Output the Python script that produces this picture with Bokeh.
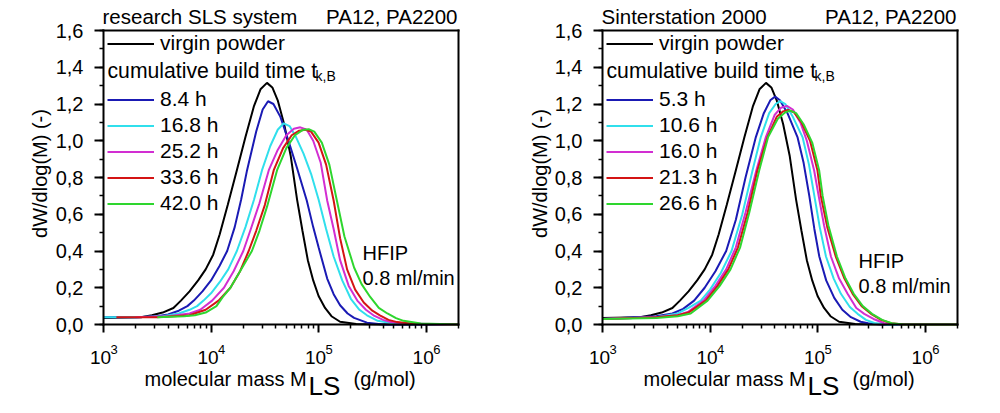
import math
import numpy as np
from bokeh.plotting import figure
from bokeh.layouts import row
from bokeh.models import (Range1d, FixedTicker, CustomJSTickFormatter, Label, Legend,
                          LegendItem, SingleIntervalTicker, LogAxis, LinearAxis)
from bokeh.embed import file_html
from bokeh.resources import INLINE

FONT = "Liberation Sans"

# ---------------- data (log10 of molar mass, dW/dlog(M)) ----------------
virgin_logm = [3.00, 3.35, 3.45, 3.55, 3.65, 3.72, 3.80, 3.88, 3.95, 4.02, 4.08, 4.155, 4.24, 4.32, 4.40,
               4.46, 4.52, 4.57, 4.62, 4.68, 4.74, 4.80, 4.85, 4.90, 4.95, 5.00, 5.06, 5.12, 5.20, 5.35,
               5.60, 6.30]
virgin_w = [0.035, 0.04, 0.05, 0.065, 0.09, 0.13, 0.18, 0.24, 0.30, 0.38, 0.49, 0.65, 0.84, 1.02, 1.19,
            1.28, 1.315, 1.29, 1.22, 1.09, 0.92, 0.68, 0.51, 0.35, 0.24, 0.155, 0.09, 0.045, 0.015, 0.003,
            0.0, 0.0]

# research SLS system
left_labels = ["8.4 h", "16.8 h", "25.2 h", "33.6 h", "42.0 h"]
left_logm = [
    [3.00, 3.30, 3.50, 3.60, 3.70, 3.78, 3.84, 3.92, 4.00, 4.08, 4.15, 4.22, 4.28, 4.335, 4.42, 4.48, 4.53,
     4.58, 4.645, 4.72, 4.80, 4.89, 4.95, 5.00, 5.08, 5.14, 5.20, 5.27, 5.33, 5.45, 5.60, 6.30],
    [3.00, 3.30, 3.55, 3.70, 3.80, 3.87, 3.93, 4.00, 4.08, 4.16, 4.24, 4.32, 4.40, 4.474, 4.55, 4.62, 4.676,
     4.73, 4.79, 4.86, 4.93, 5.00, 5.07, 5.14, 5.22, 5.30, 5.38, 5.45, 5.55, 5.70, 6.30],
    [3.30, 3.60, 3.80, 3.90, 4.01, 4.12, 4.21, 4.30, 4.37, 4.45, 4.537, 4.62, 4.70, 4.77, 4.83, 4.89, 4.95,
     5.02, 5.08, 5.14, 5.20, 5.28, 5.36, 5.44, 5.51, 5.60, 5.67, 5.80, 6.30],
    [3.12, 3.50, 3.80, 3.95, 4.07, 4.18, 4.27, 4.35, 4.42, 4.50, 4.583, 4.67, 4.75, 4.82, 4.877, 4.93, 5.00,
     5.07, 5.14, 5.20, 5.265, 5.34, 5.42, 5.50, 5.57, 5.65, 5.73, 5.90, 6.30],
    [3.50, 3.75, 3.85, 3.95, 4.05, 4.11, 4.18, 4.27, 4.38, 4.45, 4.52, 4.614, 4.70, 4.78, 4.85, 4.908, 4.96,
     5.03, 5.10, 5.17, 5.24, 5.33, 5.40, 5.48, 5.56, 5.64, 5.72, 5.79, 5.95, 6.30],
]
left_w = [
    [0.04, 0.04, 0.045, 0.055, 0.075, 0.10, 0.13, 0.18, 0.24, 0.32, 0.40, 0.53, 0.68, 0.84, 1.05, 1.17, 1.215,
     1.20, 1.13, 1.00, 0.85, 0.675, 0.53, 0.42, 0.25, 0.165, 0.105, 0.06, 0.036, 0.01, 0.0, 0.0],
    [0.04, 0.04, 0.045, 0.06, 0.08, 0.10, 0.13, 0.17, 0.23, 0.30, 0.40, 0.53, 0.68, 0.84, 0.97, 1.06, 1.095,
     1.08, 1.02, 0.93, 0.82, 0.68, 0.52, 0.37, 0.24, 0.14, 0.08, 0.05, 0.02, 0.005, 0.0],
    [0.04, 0.045, 0.06, 0.08, 0.13, 0.20, 0.29, 0.40, 0.52, 0.66, 0.84, 0.95, 1.03, 1.065, 1.073, 1.06, 1.00,
     0.88, 0.675, 0.52, 0.35, 0.21, 0.13, 0.08, 0.05, 0.025, 0.013, 0.005, 0.0],
    [0.04, 0.04, 0.05, 0.08, 0.13, 0.20, 0.29, 0.40, 0.51, 0.65, 0.84, 0.96, 1.03, 1.055, 1.06, 1.05, 0.99,
     0.87, 0.675, 0.47, 0.30, 0.19, 0.12, 0.075, 0.05, 0.025, 0.013, 0.003, 0.0],
    [0.04, 0.045, 0.05, 0.065, 0.10, 0.15, 0.20, 0.29, 0.40, 0.51, 0.64, 0.84, 0.96, 1.03, 1.058, 1.063, 1.05,
     0.99, 0.87, 0.675, 0.48, 0.31, 0.22, 0.15, 0.09, 0.06, 0.035, 0.02, 0.005, 0.0],
]

# Sinterstation 2000
right_labels = ["5.3 h", "10.6 h", "16.0 h", "21.3 h", "26.6 h"]
right_logm = [
    [3.00, 3.30, 3.50, 3.65, 3.75, 3.852, 3.95, 4.05, 4.15, 4.24, 4.33, 4.426, 4.50, 4.56, 4.605, 4.65, 4.72,
     4.813, 4.87, 4.923, 4.97, 5.016, 5.08, 5.155, 5.23, 5.31, 5.40, 5.47, 5.60, 6.30],
    [3.00, 3.50, 3.70, 3.80, 3.914, 4.00, 4.10, 4.20, 4.30, 4.395, 4.472, 4.55, 4.61, 4.652, 4.70, 4.77, 4.86,
     4.92, 4.97, 5.02, 5.078, 5.15, 5.217, 5.30, 5.372, 5.45, 5.527, 5.65, 6.30],
    [3.00, 3.50, 3.70, 3.80, 3.94, 4.05, 4.15, 4.24, 4.33, 4.43, 4.519, 4.60, 4.66, 4.714, 4.77, 4.84, 4.90,
     4.968, 5.01, 5.06, 5.124, 5.20, 5.279, 5.36, 5.434, 5.52, 5.62, 5.80, 6.30],
    [3.00, 3.50, 3.70, 3.80, 3.96, 4.07, 4.17, 4.26, 4.35, 4.44, 4.534, 4.62, 4.68, 4.726, 4.78, 4.85, 4.93,
     4.999, 5.03, 5.09, 5.171, 5.25, 5.326, 5.41, 5.496, 5.59, 5.682, 5.80, 6.30],
    [3.00, 3.50, 3.70, 3.82, 3.977, 4.09, 4.19, 4.28, 4.365, 4.457, 4.54, 4.63, 4.70, 4.745, 4.80, 4.87, 4.95,
     5.015, 5.047, 5.10, 5.18, 5.26, 5.336, 5.42, 5.506, 5.60, 5.69, 5.80, 6.30],
]
right_w = [
    [0.03, 0.04, 0.045, 0.06, 0.085, 0.13, 0.20, 0.29, 0.40, 0.57, 0.80, 1.02, 1.15, 1.22, 1.24, 1.22, 1.15,
     1.02, 0.88, 0.70, 0.52, 0.37, 0.24, 0.145, 0.08, 0.04, 0.015, 0.007, 0.0, 0.0],
    [0.03, 0.04, 0.06, 0.09, 0.13, 0.19, 0.28, 0.40, 0.60, 0.838, 1.02, 1.15, 1.20, 1.216, 1.20, 1.13, 1.02,
     0.87, 0.70, 0.53, 0.37, 0.25, 0.167, 0.095, 0.058, 0.025, 0.008, 0.0, 0.0],
    [0.03, 0.04, 0.05, 0.07, 0.13, 0.21, 0.30, 0.42, 0.61, 0.838, 1.02, 1.14, 1.18, 1.19, 1.17, 1.10, 1.00,
     0.838, 0.70, 0.54, 0.37, 0.25, 0.167, 0.09, 0.058, 0.03, 0.007, 0.0, 0.0],
    [0.03, 0.04, 0.05, 0.065, 0.13, 0.21, 0.30, 0.42, 0.61, 0.838, 1.02, 1.13, 1.16, 1.168, 1.155, 1.10, 1.00,
     0.838, 0.70, 0.53, 0.366, 0.25, 0.167, 0.10, 0.058, 0.025, 0.007, 0.0, 0.0],
    [0.03, 0.035, 0.045, 0.06, 0.13, 0.21, 0.30, 0.42, 0.61, 0.838, 1.02, 1.12, 1.155, 1.164, 1.15, 1.09, 0.99,
     0.838, 0.70, 0.54, 0.37, 0.25, 0.167, 0.10, 0.058, 0.025, 0.007, 0.0, 0.0],
]

series_colors = ["#1a1ab4", "#30dfec", "#d22ed2", "#d41414", "#2ed62e"]
X_MIN, X_MAX = 1e3, 2e6
Y_MIN, Y_MAX = 0.0, 1.6
x_major = [1e3, 1e4, 1e5, 1e6]
x_exponents = ["3", "4", "5", "6"]
x_minor = [m * 10 ** e for e in range(3, 7) for m in range(2, 10) if m * 10 ** e <= X_MAX]

W, H = 500, 413          # canvas of each panel
TOP, BOTTOM = 30, 324    # pixel rows of the data box
BASE_FIX = 6             # baseline correction of Label text (px)


def txt(p, x, y, text, size="20px", align="left", angle=0.0, baseline="alphabetic"):
    if baseline == "alphabetic":
        y = y - BASE_FIX
    p.add_layout(Label(x=x, y=H - y, x_units="screen", y_units="screen", text=text,
                       text_font=FONT, text_font_size=size, text_align=align, angle=angle,
                       text_baseline=baseline, text_color="black"))


def style_axis(ax, major_out=8, minor_out=4):
    ax.axis_line_width = 2
    ax.axis_line_color = "black"
    ax.axis_line_cap = "square"
    ax.major_tick_line_width = 2
    ax.minor_tick_line_width = 1.5
    ax.major_tick_in = 0
    ax.major_tick_out = major_out
    ax.minor_tick_in = 0
    ax.minor_tick_out = minor_out


def panel(title, labels, logms, ws, left, right, hfip_x, hfip_y):
    dec_px = (right - left) / math.log10(X_MAX / X_MIN)
    unit_px = (BOTTOM - TOP) / (Y_MAX - Y_MIN)
    x0 = 10 ** (math.log10(X_MIN) - left / dec_px)
    x1 = 10 ** (math.log10(X_MIN) + (W - left) / dec_px)
    y0 = Y_MIN - (H - BOTTOM) / unit_px
    y1 = Y_MAX + TOP / unit_px

    p = figure(width=W, height=H, x_axis_type="log", title=None,
               x_range=Range1d(x0, x1), y_range=Range1d(y0, y1),
               output_backend="svg", toolbar_location=None, min_border=0)
    p.grid.visible = False
    p.outline_line_color = None
    p.background_fill_color = "white"
    p.border_fill_color = "white"

    # left axis
    ya = p.yaxis[0]
    ya.fixed_location = X_MIN
    ya.bounds = (Y_MIN, Y_MAX)
    ya.ticker = SingleIntervalTicker(interval=0.2, num_minor_ticks=2)
    ya.formatter = CustomJSTickFormatter(code="return tick.toFixed(1).replace('.', ',');")
    ya.major_label_text_font = FONT
    ya.major_label_text_font_size = "20px"
    ya.major_label_text_color = "black"
    ya.major_label_standoff = 11
    style_axis(ya, major_out=9, minor_out=4)

    # bottom axis
    xa = p.xaxis[0]
    xa.fixed_location = Y_MIN
    xa.bounds = (X_MIN, X_MAX)
    xa.ticker = FixedTicker(ticks=x_major, minor_ticks=x_minor)
    xa.formatter = CustomJSTickFormatter(code="return '';")
    style_axis(xa, major_out=8, minor_out=4)

    # top and right frame lines
    ta = LogAxis(fixed_location=Y_MAX, bounds=(X_MIN, X_MAX), ticker=FixedTicker(ticks=[]),
                 formatter=CustomJSTickFormatter(code="return '';"))
    ra = LinearAxis(fixed_location=X_MAX, bounds=(Y_MIN, Y_MAX), ticker=FixedTicker(ticks=[]),
                    formatter=CustomJSTickFormatter(code="return '';"))
    for ax in (ta, ra):
        style_axis(ax)
    p.add_layout(ta, "above")
    p.add_layout(ra, "right")

    # x tick labels 10^n
    for xv, ex in zip(x_major, x_exponents):
        p.add_layout(Label(x=xv, y=H - (363 - BASE_FIX), x_units="data", y_units="screen", text="10",
                           x_offset=-3, text_font=FONT, text_font_size="19px", text_align="center",
                           text_baseline="alphabetic", text_color="black"))
        p.add_layout(Label(x=xv, y=H - (355 - BASE_FIX), x_units="data", y_units="screen", text=ex,
                           x_offset=7, text_font=FONT, text_font_size="13px", text_align="left",
                           text_baseline="alphabetic", text_color="black"))

    # axis titles
    txt(p, left + 41, 384, "molecular mass M")
    txt(p, left + 205, 391, "LS", size="26px")
    txt(p, left + 250, 384, "(g/mol)")
    txt(p, 39, 173, "dW/dlog(M) (-)", align="center", angle=math.pi / 2, baseline="middle")

    # titles
    txt(p, left - 1, 21.7, title, size="20.5px")
    txt(p, right - 1, 21.7, "PA12, PA2200", size="20.5px", align="right")

    # HFIP note
    txt(p, hfip_x, hfip_y, "HFIP")
    txt(p, hfip_x, hfip_y + 25, "0.8 ml/min")

    # curves
    rv = p.line(10 ** np.array(virgin_logm), virgin_w, line_color="black", line_width=2)
    rends = []
    for lm, w, c in zip(logms, ws, series_colors):
        rends.append(p.line(10 ** np.array(lm), w, line_color=c, line_width=2))

    common = dict(padding=0, margin=0, border_line_color=None, background_fill_alpha=0,
                  label_text_font=FONT, label_text_font_size="21px", label_text_color="black",
                  glyph_width=47, glyph_height=23, label_height=23, spacing=2, label_standoff=6)
    legA = Legend(items=[LegendItem(label="virgin powder", renderers=[rv])],
                  location=(left + 4, H - 55), **common)
    legB = Legend(items=[LegendItem(label=lab, renderers=[r]) for lab, r in zip(labels, rends)],
                  location=(left + 4, H - 215), **common)
    p.add_layout(legA)
    p.add_layout(legB)

    txt(p, left + 4, 76, "cumulative build time t", size="21.2px")
    txt(p, left + 212, 81.7, "k,B", size="14px")
    return p


p1 = panel("research SLS system", left_labels, left_logm, left_w, 103, 458, 362, 258.3)
p2 = panel("Sinterstation 2000", right_labels, right_logm, right_w, 102, 457, 358, 266.7)
layout = row(p1, p2)

open("out.html", "w").write(file_html(layout, INLINE))
